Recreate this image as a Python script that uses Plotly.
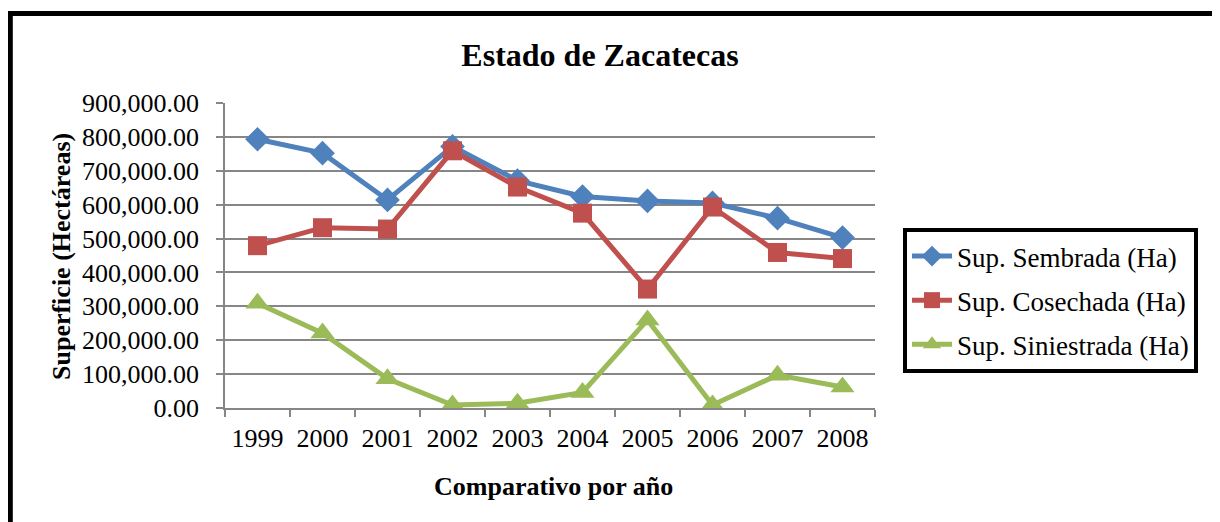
import plotly.graph_objects as go

years = ["1999", "2000", "2001", "2002", "2003", "2004", "2005", "2006", "2007", "2008"]
sembrada = [793000, 752000, 614000, 772000, 671000, 624000, 611000, 605000, 560000, 503000]
cosechada = [479000, 532000, 528000, 759000, 652000, 575000, 351000, 593000, 459000, 441000]
siniestrada = [309000, 221000, 86000, 9000, 14000, 46000, 260000, 9000, 97000, 62000]

names = ["Sup. Sembrada (Ha)", "Sup. Cosechada (Ha)", "Sup. Siniestrada (Ha)"]
colors = ["#4F81BD", "#C0504D", "#9BBB59"]
symbols = ["diamond", "square", "triangle-up"]
msizes = [19, 19, 21]

# page body has an 8px margin; work in screen coordinates and subtract it
OFF = 8
W, H = 1220 - OFF, 522 - OFF
L, R, T, B = 225 - OFF, 875 - OFF, 103 - OFF, 408 - OFF

def px(x):
    return (x - OFF - L) / (R - L)

def py(y):
    return (B - (y - OFF)) / (B - T)

fig = go.Figure()
for i, (nm, vals) in enumerate(zip(names, [sembrada, cosechada, siniestrada])):
    fig.add_trace(go.Scatter(
        x=years, y=vals, name=nm, mode="lines+markers",
        legendgroup=str(i),
        line=dict(color=colors[i], width=5),
        marker=dict(symbol=symbols[i], size=msizes[i], color=colors[i]),
    ))

font_family = "Liberation Serif, Times New Roman, serif"
fig.update_layout(
    width=W, height=H,
    margin=dict(l=L, r=W - R, t=T, b=H - B),
    paper_bgcolor="white", plot_bgcolor="white",
    font=dict(family=font_family, color="black", size=26),
    title=dict(text="<b>Estado de Zacatecas</b>", x=(600 - OFF) / W, xanchor="center",
               y=1 - (55 - OFF) / H, yanchor="middle", xref="container", yref="container",
               font=dict(size=32, family=font_family, color="black")),
    showlegend=True,
    legend=dict(x=px(903), y=py(228), xanchor="left", yanchor="top",
                bordercolor="black", borderwidth=4, bgcolor="white",
                font=dict(size=27, family=font_family),
                tracegroupgap=6, itemwidth=40),
    xaxis=dict(showgrid=False, showline=True, linecolor="#868686", linewidth=1.5,
               ticks="outside", ticklen=7, tickcolor="#868686", tickwidth=1.5,
               tickson="boundaries", tickfont=dict(size=26), range=[-0.5, 9.5],
               ticklabelstandoff=6),
    yaxis=dict(range=[0, 900000], dtick=100000, tickformat=",.2f",
               showgrid=True, gridcolor="#868686", gridwidth=1.5,
               showline=True, linecolor="#868686", linewidth=1.5,
               ticks="outside", ticklen=7, tickcolor="#868686", tickwidth=1.5,
               tickfont=dict(size=26), zeroline=False, ticklabelstandoff=12),
    shapes=[dict(type="rect", xref="paper", yref="paper",
                 x0=px(10.3), x1=px(1260), y0=py(560), y1=py(13.5),
                 line=dict(color="black", width=5), fillcolor="rgba(0,0,0,0)")],
    annotations=[
        dict(text="<b>Superficie (Hectáreas)</b>", x=px(62), y=py(257), xref="paper", yref="paper",
             textangle=-90, showarrow=False, font=dict(size=26, family=font_family),
             xanchor="center", yanchor="middle"),
        dict(text="<b>Comparativo por año</b>", x=px(553), y=py(487), xref="paper", yref="paper",
             showarrow=False, font=dict(size=26, family=font_family),
             xanchor="center", yanchor="middle"),
    ],
)

fig.write_html("out.html")
